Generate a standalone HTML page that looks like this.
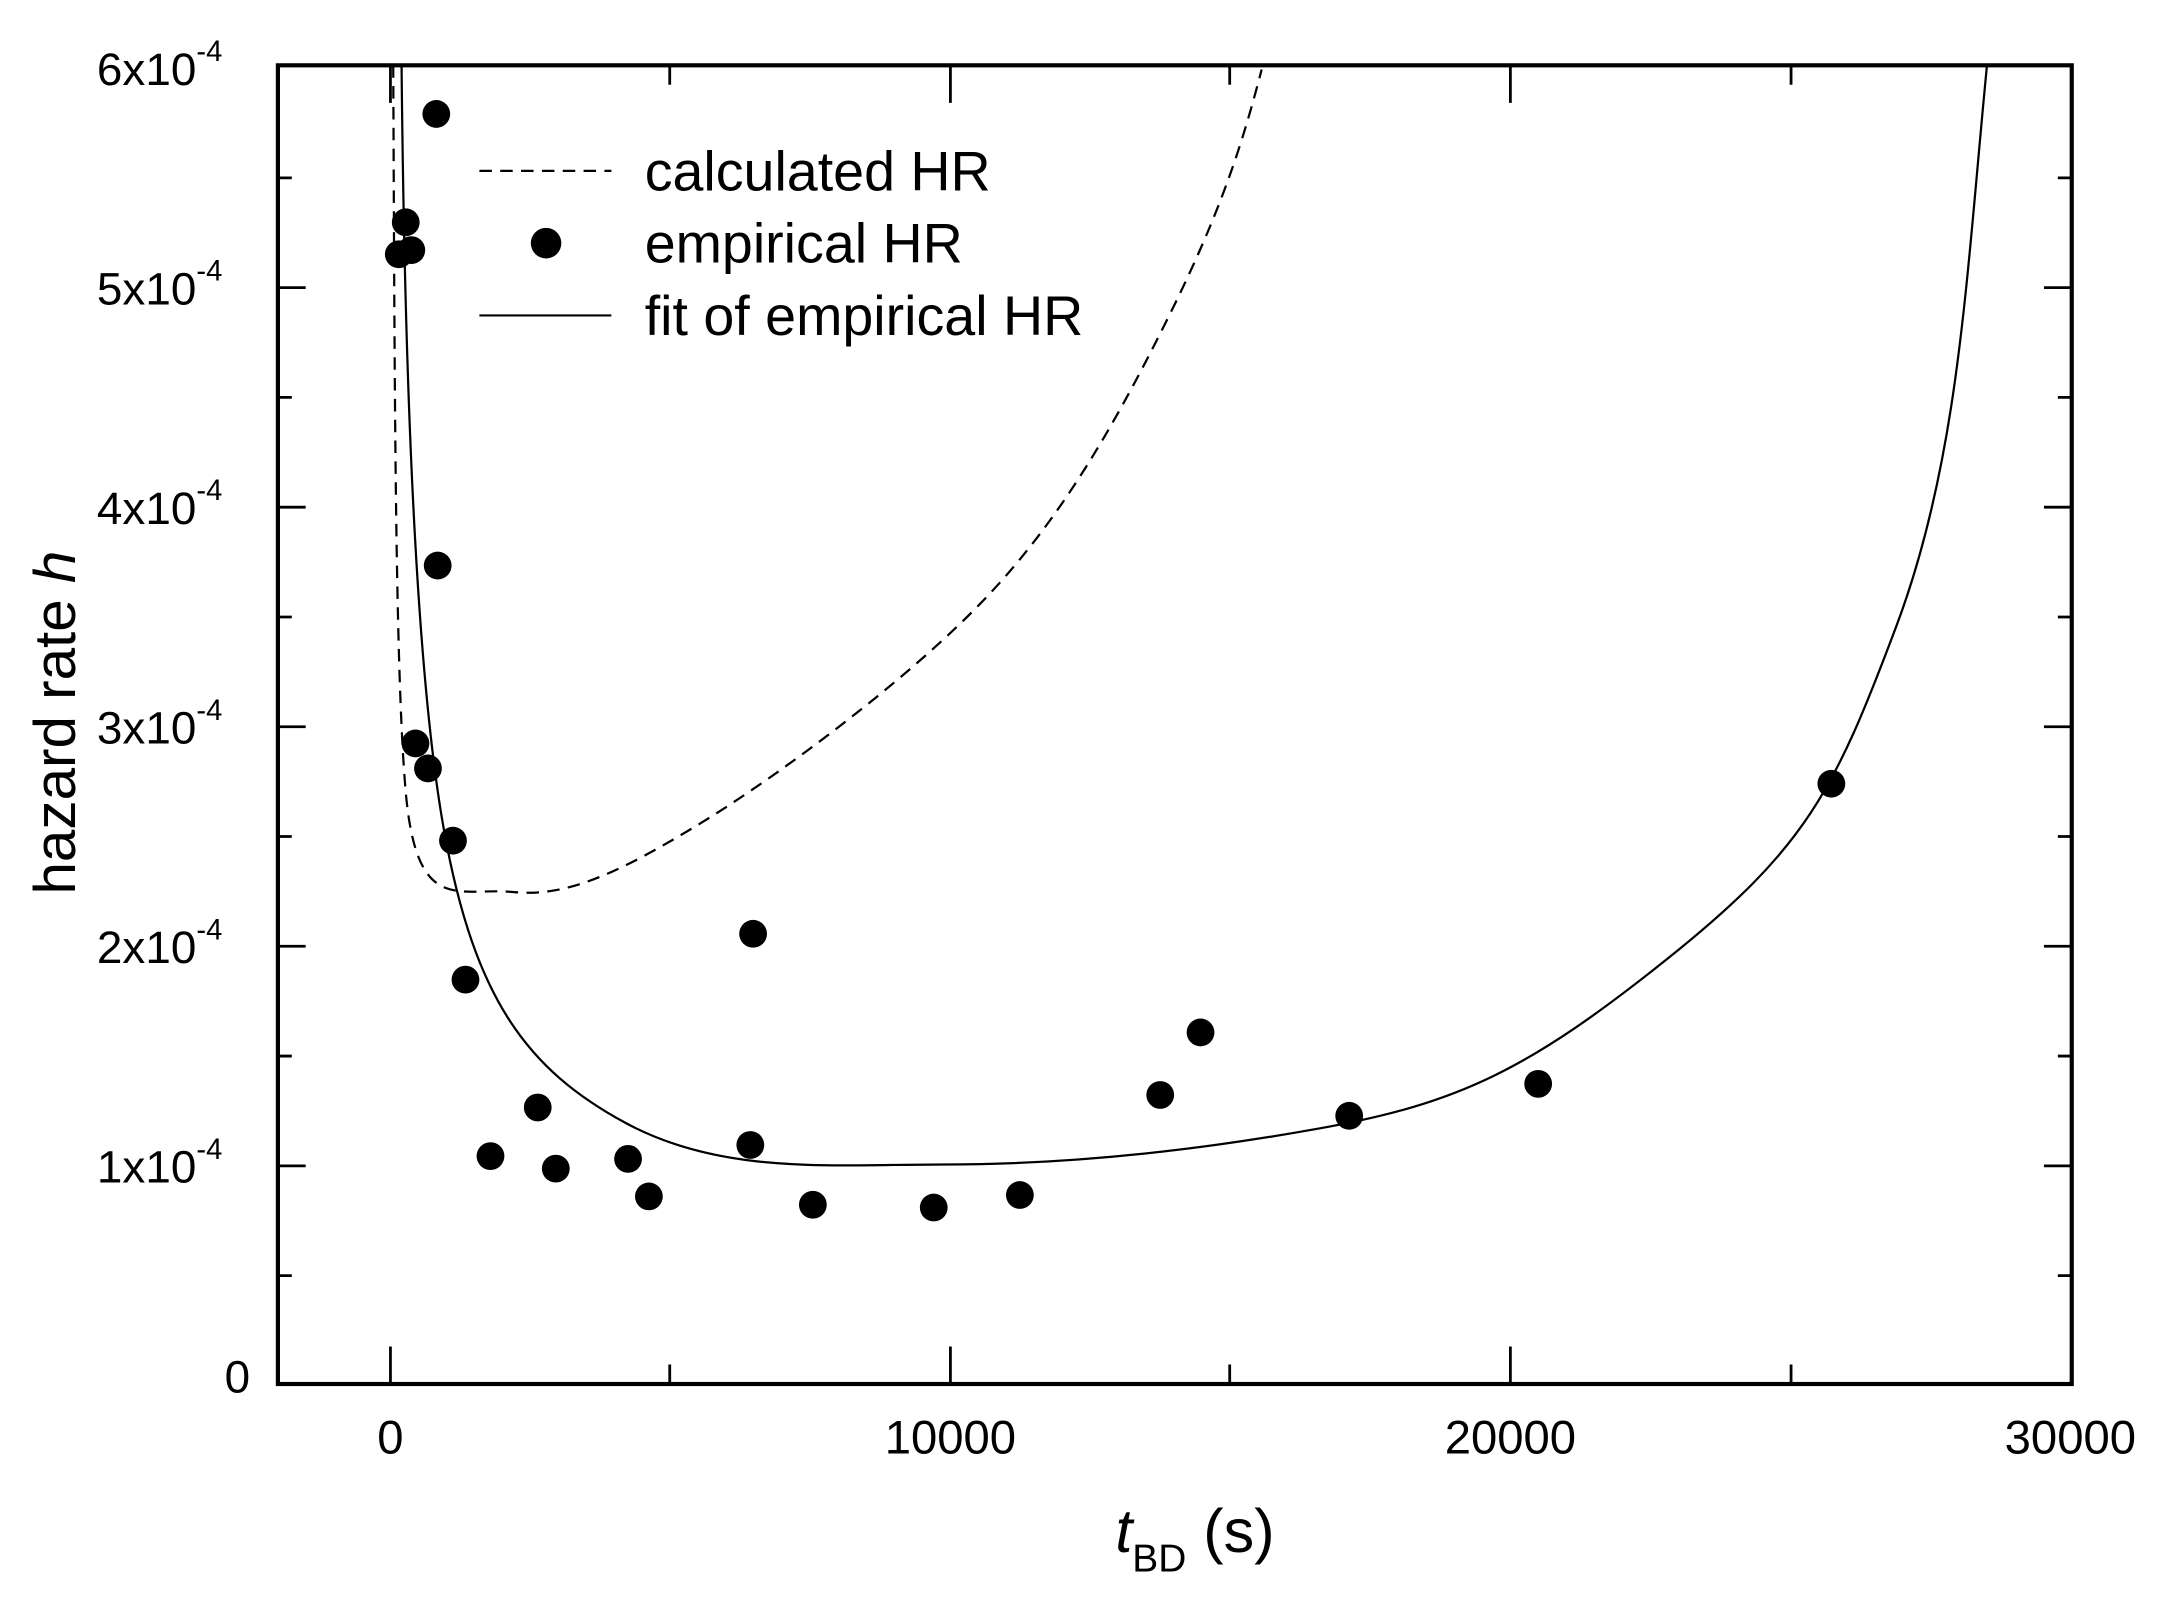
<!DOCTYPE html>
<html><head><style>html,body{margin:0;padding:0;background:#fff}svg{display:block}</style></head>
<body>
<svg width="2169" height="1598" viewBox="0 0 1561 1150" preserveAspectRatio="none" xmlns="http://www.w3.org/2000/svg" font-family="Liberation Sans, Arial, sans-serif">
<rect width="1561" height="1150" fill="#fff"/>
<g stroke="#000" stroke-width="2" fill="none">
<path d="M200 839h20M200 681h20M200 523h20M200 365h20M200 207h20M200 918h10M200 760h10M200 602h10M200 444h10M200 286h10M200 128h10"/>
<path d="M1491 839h-20M1491 681h-20M1491 523h-20M1491 365h-20M1491 207h-20M1491 918h-10M1491 760h-10M1491 602h-10M1491 444h-10M1491 286h-10M1491 128h-10"/>
<path d="M281 996v-27M684 996v-27M1087 996v-27M482 996v-14M885 996v-14M1289 996v-14"/>
<path d="M281 47v27M684 47v27M1087 47v27M482 47v14M885 47v14M1289 47v14"/>
</g>
<rect x="200" y="47" width="1291" height="949" fill="none" stroke="#000" stroke-width="3"/>
<path d="M289 47 C291 250,298 480,320 600 S380 770,450 808 S600 838,680 838 S850 830,950 812 S1100 770,1200 690 S1320 570,1365 450 S1415 200,1430 47" fill="none" stroke="#000" stroke-width="1.6"/>
<path d="M283 47 C284 250,284 480,292 570 S330 638,370 642 S450 625,500 595 S640 500,700 440 S800 310,840 230 S895 100,908 50" fill="none" stroke="#000" stroke-width="1.6" stroke-dasharray="9,6"/>
<g fill="#000">
<circle cx="287" cy="183" r="10"/><circle cx="292" cy="160" r="10"/><circle cx="296" cy="180" r="10"/><circle cx="314" cy="82" r="10"/><circle cx="315" cy="407" r="10"/><circle cx="299" cy="535" r="10"/><circle cx="308" cy="553" r="10"/><circle cx="326" cy="605" r="10"/><circle cx="335" cy="705" r="10"/><circle cx="353" cy="832" r="10"/><circle cx="387" cy="797" r="10"/><circle cx="400" cy="841" r="10"/><circle cx="452" cy="834" r="10"/><circle cx="467" cy="861" r="10"/><circle cx="542" cy="672" r="10"/><circle cx="540" cy="824" r="10"/><circle cx="585" cy="867" r="10"/><circle cx="672" cy="869" r="10"/><circle cx="734" cy="860" r="10"/><circle cx="835" cy="788" r="10"/><circle cx="864" cy="743" r="10"/><circle cx="971" cy="803" r="10"/><circle cx="1107" cy="780" r="10"/><circle cx="1318" cy="564" r="10"/>
</g>
<path d="M345 123h95" stroke="#000" stroke-width="1.6" stroke-dasharray="9,6"/>
<circle cx="393" cy="175" r="11" fill="#000"/>
<path d="M345 227h95" stroke="#000" stroke-width="1.6"/>
<g font-size="40" fill="#000">
<text x="464" y="137">calculated HR</text>
<text x="464" y="189">empirical HR</text>
<text x="464" y="241">fit of empirical HR</text>
</g>
<g font-size="33" fill="#000" text-anchor="end">
<text x="180" y="1002">0</text>
<text x="160" y="851">1x10<tspan font-size="21" dy="-17">-4</tspan></text>
<text x="160" y="693">2x10<tspan font-size="21" dy="-17">-4</tspan></text>
<text x="160" y="535">3x10<tspan font-size="21" dy="-17">-4</tspan></text>
<text x="160" y="377">4x10<tspan font-size="21" dy="-17">-4</tspan></text>
<text x="160" y="219">5x10<tspan font-size="21" dy="-17">-4</tspan></text>
<text x="160" y="61">6x10<tspan font-size="21" dy="-17">-4</tspan></text>
</g>
<g font-size="34" fill="#000" text-anchor="middle">
<text x="281" y="1046">0</text>
<text x="684" y="1046">10000</text>
<text x="1087" y="1046">20000</text>
<text x="1490" y="1046">30000</text>
</g>
<text x="860" y="1117" font-size="44" text-anchor="middle" fill="#000"><tspan font-style="italic">t</tspan><tspan font-size="28" dy="14">BD</tspan><tspan dy="-14"> (s)</tspan></text>
<text transform="translate(54,520) rotate(-90)" font-size="42" text-anchor="middle" fill="#000">hazard rate <tspan font-style="italic">h</tspan></text>
</svg>
</body></html>
